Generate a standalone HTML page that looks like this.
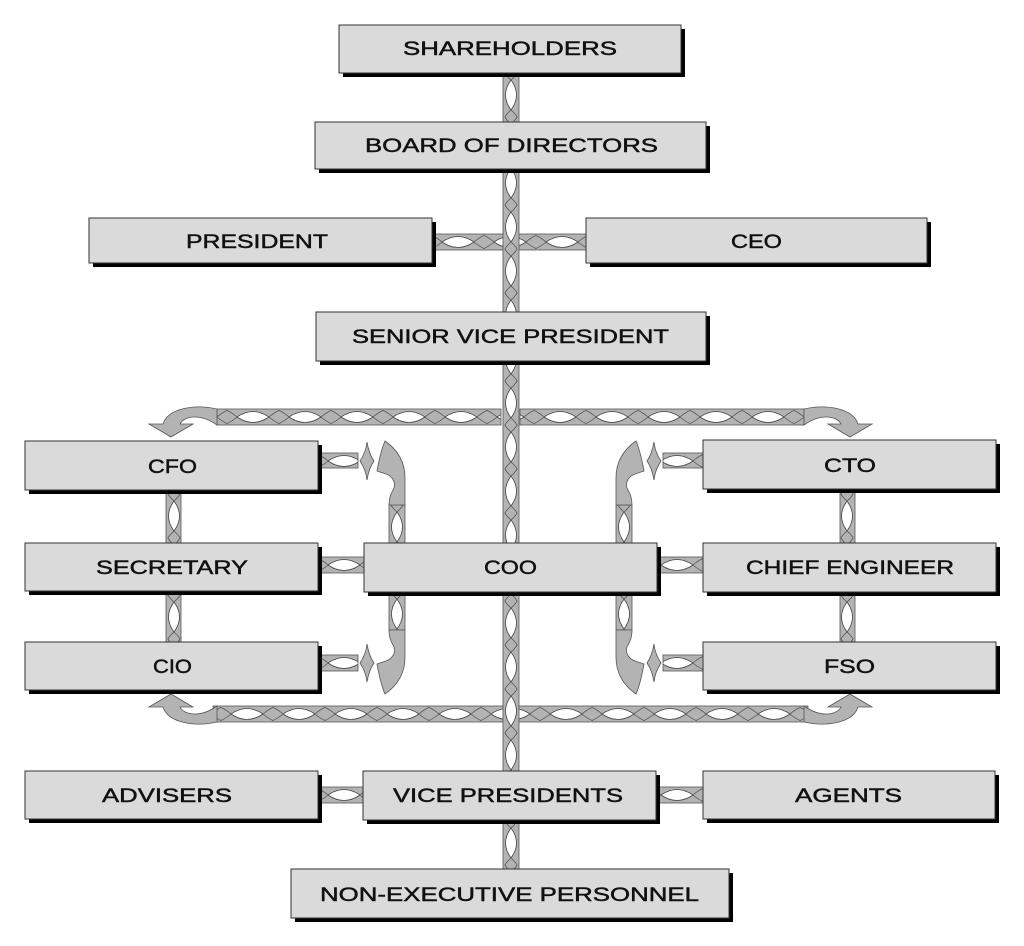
<!DOCTYPE html>
<html>
<head>
<meta charset="utf-8">
<style>
  html,body{margin:0;padding:0;background:#fff;}
  svg{display:block;}
  .t{font-family:"Liberation Sans",Arial,sans-serif;font-weight:normal;font-size:19px;fill:#111;stroke:#111;stroke-width:0.45px;}
  .bx{fill:#dadada;stroke:#333;stroke-width:1;}
  .sh{fill:#000;}
  .bd{fill:url(#hp);stroke:#555;stroke-width:.8;}
  .bv{fill:url(#vp);stroke:#555;stroke-width:.8;}
  .ar{fill:#b3b3b3;stroke:#555;stroke-width:.8;}
</style>
</head>
<body>
<svg width="1024" height="946" viewBox="0 0 1024 946" xmlns="http://www.w3.org/2000/svg">
<defs>
  <pattern id="hp" width="52" height="16" patternUnits="userSpaceOnUse">
    <rect width="52" height="16" fill="#b3b3b3"/>
    <path d="M44 8 Q49 2 56 0 L52 0 Z M44 8 Q49 14 56 16 L52 16Z" fill="#a2a2a2"/>
    <path d="M10 8 Q26 -3 42 8 Q26 19 10 8Z" fill="#fff" stroke="#444" stroke-width=".8"/>
    <path d="M42 8 Q49 2 56 0 M42 8 Q49 14 56 16 M10 8 Q3 2 -4 0 M10 8 Q3 14 -4 16" fill="none" stroke="#555" stroke-width=".8"/>
  </pattern>
  <pattern id="vp" width="16" height="44" patternUnits="userSpaceOnUse">
    <rect width="16" height="44" fill="#b3b3b3"/>
    <path d="M8 7 Q-3 22 8 37 Q19 22 8 7Z" fill="#fff" stroke="#444" stroke-width=".8"/>
    <path d="M8 37 Q2 42 0 48 M8 37 Q14 42 16 48 M8 7 Q2 2 0 -4 M8 7 Q14 2 16 -4" fill="none" stroke="#555" stroke-width=".8"/>
  </pattern>

  <path id="hook" class="ar" d="M217 409 C195 404,168 408,163 424 L149 424 L171 437 L193 424 L180 424 C184 416,200 413,217 425 Z"/>
  <path id="brk" class="ar" d="M385 441 C398 450,405 462,405 478 L405 505 L389 505 C389 496,392 492,394 488 C396 482,392 476,386 474 L377 471 C379 460,381 450,385 441 Z"/>
  <path id="chev" class="ar" d="M360 461 Q366 452 367 442 Q369 454 374 461 Q369 468 367 480 Q366 470 360 461 Z"/>

  <g id="L">
    <g transform="translate(227,409)"><rect class="bd" x="-10" y="0" width="284" height="16"/></g>
    <g transform="translate(221,706)"><rect class="bd" x="-8" y="0" width="298" height="16"/></g>
    <use href="#hook"/>
    <use href="#hook" transform="translate(0,1131) scale(1,-1)"/>
    <g transform="translate(318,453)"><rect class="bd" width="40" height="15"/></g>
    <g transform="translate(318,557)"><rect class="bd" width="46" height="16"/></g>
    <g transform="translate(318,655)"><rect class="bd" width="40" height="16"/></g>
    <g transform="translate(318,787)"><rect class="bd" width="45" height="16"/></g>
    <g transform="translate(166,494)"><rect class="bv" x="0" y="-4" width="15" height="53"/></g>
    <g transform="translate(166,595)"><rect class="bv" x="0" y="-4" width="15" height="51"/></g>
    <g transform="translate(389,505)"><rect class="bv" width="16" height="38"/></g>
    <g transform="translate(389,592)"><rect class="bv" width="16" height="38"/></g>
    <use href="#brk"/>
    <use href="#brk" transform="translate(0,1135) scale(1,-1)"/>
    <use href="#chev"/>
    <use href="#chev" transform="translate(0,202)"/>
  </g>
</defs>

<use href="#L"/>
<use href="#L" transform="translate(1021,0) scale(-1,1)"/>
<g transform="translate(432,234)"><rect class="bd" width="154" height="16"/></g>
<g transform="translate(503,73)"><rect class="bv" width="16" height="796"/></g>

<g>
  <rect class="sh" x="343" y="29" width="342" height="48"/><rect class="bx" x="339" y="25" width="342" height="48"/>
  <rect class="sh" x="319" y="126" width="391" height="47"/><rect class="bx" x="315" y="122" width="391" height="47"/>
  <rect class="sh" x="93" y="222" width="343" height="45"/><rect class="bx" x="89" y="218" width="343" height="45"/>
  <rect class="sh" x="590" y="222" width="341" height="45"/><rect class="bx" x="586" y="218" width="341" height="45"/>
  <rect class="sh" x="320" y="316" width="390" height="49"/><rect class="bx" x="316" y="312" width="390" height="49"/>

  <rect class="sh" x="29" y="445" width="293" height="49"/><rect class="bx" x="25" y="441" width="293" height="49"/>
  <rect class="sh" x="29" y="547" width="293" height="48"/><rect class="bx" x="25" y="543" width="293" height="48"/>
  <rect class="sh" x="29" y="646" width="293" height="48"/><rect class="bx" x="25" y="642" width="293" height="48"/>

  <rect class="sh" x="368" y="547" width="293" height="49"/><rect class="bx" x="364" y="543" width="293" height="49"/>

  <rect class="sh" x="707" y="444" width="293" height="49"/><rect class="bx" x="703" y="440" width="293" height="49"/>
  <rect class="sh" x="707" y="547" width="293" height="49"/><rect class="bx" x="703" y="543" width="293" height="49"/>
  <rect class="sh" x="707" y="646" width="293" height="48"/><rect class="bx" x="703" y="642" width="293" height="48"/>

  <rect class="sh" x="29" y="775" width="293" height="48"/><rect class="bx" x="25" y="771" width="293" height="48"/>
  <rect class="sh" x="367" y="775" width="293" height="49"/><rect class="bx" x="363" y="771" width="293" height="49"/>
  <rect class="sh" x="707" y="775" width="292" height="48"/><rect class="bx" x="703" y="771" width="292" height="48"/>

  <rect class="sh" x="295" y="873" width="438" height="49"/><rect class="bx" x="291" y="869" width="438" height="49"/>
</g>

<g class="t">
  <text x="403" y="55" textLength="214" lengthAdjust="spacingAndGlyphs">SHAREHOLDERS</text>
  <text x="365" y="152" textLength="293" lengthAdjust="spacingAndGlyphs">BOARD OF DIRECTORS</text>
  <text x="186" y="248" textLength="142" lengthAdjust="spacingAndGlyphs">PRESIDENT</text>
  <text x="731" y="248" textLength="51" lengthAdjust="spacingAndGlyphs">CEO</text>
  <text x="352" y="343" textLength="317" lengthAdjust="spacingAndGlyphs">SENIOR VICE PRESIDENT</text>
  <text x="148" y="473" textLength="49" lengthAdjust="spacingAndGlyphs">CFO</text>
  <text x="96" y="574" textLength="152" lengthAdjust="spacingAndGlyphs">SECRETARY</text>
  <text x="153" y="673" textLength="39" lengthAdjust="spacingAndGlyphs">CIO</text>
  <text x="484" y="574" textLength="53" lengthAdjust="spacingAndGlyphs">COO</text>
  <text x="824" y="472" textLength="52" lengthAdjust="spacingAndGlyphs">CTO</text>
  <text x="746" y="574" textLength="208" lengthAdjust="spacingAndGlyphs">CHIEF ENGINEER</text>
  <text x="824" y="673" textLength="51" lengthAdjust="spacingAndGlyphs">FSO</text>
  <text x="102" y="802" textLength="130" lengthAdjust="spacingAndGlyphs">ADVISERS</text>
  <text x="393" y="802" textLength="230" lengthAdjust="spacingAndGlyphs">VICE PRESIDENTS</text>
  <text x="795" y="802" textLength="107" lengthAdjust="spacingAndGlyphs">AGENTS</text>
  <text x="320" y="901" textLength="379" lengthAdjust="spacingAndGlyphs">NON-EXECUTIVE PERSONNEL</text>
</g>
</svg>
</body>
</html>
